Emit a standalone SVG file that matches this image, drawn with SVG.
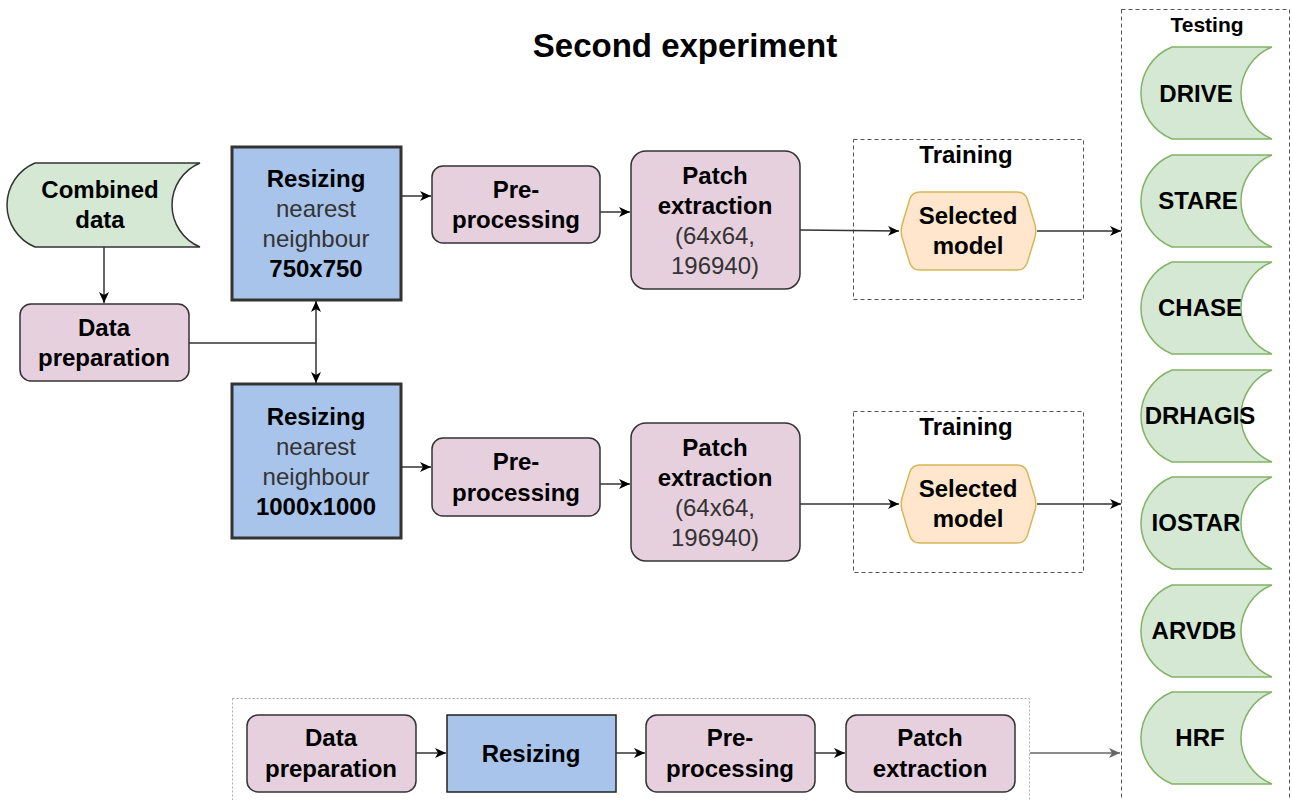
<svg xmlns="http://www.w3.org/2000/svg" width="1293" height="800" viewBox="0 0 1293 800">
<defs>
<style>
text{font-family:"Liberation Sans",Arial,sans-serif;font-size:24px;text-anchor:middle;fill:#000}
.b{font-weight:bold}
.g{fill:#333;font-weight:normal}
.pink{fill:#E6D0DE;stroke:#333;stroke-width:1.5}
.blue{fill:#A9C4EB;stroke:#333;stroke-width:3}
.blue1{fill:#A9C4EB;stroke:#222;stroke-width:1.5}
.green{fill:#D5E8D4;stroke:#82B366;stroke-width:1.5}
.hex{fill:#FFE6CC;stroke:#D6B656;stroke-width:1.5}
.dash{fill:none;stroke:#555;stroke-width:1;stroke-dasharray:4 3}
.dot{fill:none;stroke:#aaa;stroke-width:1;stroke-dasharray:2 2}
.c{fill:none;stroke:#333;stroke-width:1.5}
.cg{fill:none;stroke:#666;stroke-width:1.5}
</style>
<marker id="a" markerWidth="12" markerHeight="11" refX="11" refY="5.5" orient="auto" markerUnits="userSpaceOnUse">
<path d="M0,0.5 L11,5.5 L0,10.5 L3,5.5 Z" fill="#000"/>
</marker>
<marker id="as" markerWidth="12" markerHeight="11" refX="11" refY="5.5" orient="auto-start-reverse" markerUnits="userSpaceOnUse">
<path d="M0,0.5 L11,5.5 L0,10.5 L3,5.5 Z" fill="#000"/>
</marker>
<marker id="ag" markerWidth="12" markerHeight="11" refX="11" refY="5.5" orient="auto" markerUnits="userSpaceOnUse">
<path d="M0,0.5 L11,5.5 L0,10.5 L3,5.5 Z" fill="#666"/>
</marker>
<path id="hexp" d="M920,192 L1017,192 Q1025,192 1027.4,199.6 L1034.6,223.4 Q1037,231 1034.6,238.6 L1027.4,262.4 Q1025,270 1017,270 L920,270 Q912,270 909.6,262.4 L902.4,238.6 Q900,231 902.4,223.4 L909.6,199.6 Q912,192 920,192 Z"/>
<path id="ds" d="M1172,0 L1272,0 A49.6 49.6 0 0 0 1272,92 L1172,92 A49.6 49.6 0 0 1 1172,0 Z"/>
</defs>

<rect width="1293" height="800" fill="#fff"/>

<text id="title" class="b" x="685" y="57" style="font-size:33px">Second experiment</text>

<g id="testing">
<rect class="dash" x="1121.5" y="9.5" width="168" height="800"/>
<text class="b" x="1207" y="32" style="font-size:21px">Testing</text>
</g>
<g id="drive"><use href="#ds" class="green" y="47"/><text class="b" x="1196" y="102">DRIVE</text></g>
<g id="stare"><use href="#ds" class="green" y="155"/><text class="b" x="1198" y="209">STARE</text></g>
<g id="chase"><use href="#ds" class="green" y="262"/><text class="b" x="1200" y="316">CHASE</text></g>
<g id="drhagis"><use href="#ds" class="green" y="370"/><text class="b" x="1200" y="424">DRHAGIS</text></g>
<g id="iostar"><use href="#ds" class="green" y="477"/><text class="b" x="1196" y="531">IOSTAR</text></g>
<g id="arvdb"><use href="#ds" class="green" y="585"/><text class="b" x="1194" y="639">ARVDB</text></g>
<g id="hrf"><use href="#ds" class="green" y="692"/><text class="b" x="1200" y="746">HRF</text></g>

<g id="combined">
<path class="green" style="stroke:#333" d="M35,163 L200,163 A45.5 45.5 0 0 0 200,247 L35,247 A45.5 45.5 0 0 1 35,163 Z"/>
<text class="b" x="100" y="198">Combined</text>
<text class="b" x="100" y="228">data</text>
</g>

<g id="dataprep">
<rect class="pink" x="20" y="304" width="169" height="77" rx="11"/>
<text class="b" x="104" y="336">Data</text>
<text class="b" x="104" y="366">preparation</text>
</g>

<g id="resize1">
<rect class="blue" x="232" y="147" width="169" height="153"/>
<text class="b" x="316" y="187">Resizing</text>
<text class="g" x="316" y="217">nearest</text>
<text class="g" x="316" y="247">neighbour</text>
<text class="b" x="316" y="277">750x750</text>
</g>

<g id="resize2">
<rect class="blue" x="232" y="384" width="169" height="154"/>
<text class="b" x="316" y="425">Resizing</text>
<text class="g" x="316" y="455">nearest</text>
<text class="g" x="316" y="485">neighbour</text>
<text class="b" x="316" y="515">1000x1000</text>
</g>

<g id="pre1">
<rect class="pink" x="432" y="166" width="168" height="77" rx="11"/>
<text class="b" x="516" y="198">Pre-</text>
<text class="b" x="516" y="228">processing</text>
</g>

<g id="patch1">
<rect class="pink" x="631" y="151" width="169" height="138" rx="15"/>
<text class="b" x="715" y="184">Patch</text>
<text class="b" x="715" y="214">extraction</text>
<text class="g" x="715" y="244">(64x64,</text>
<text class="g" x="715" y="274">196940)</text>
</g>

<g id="train1">
<rect class="dash" x="853.5" y="139.5" width="230" height="160"/>
<text class="b" x="966" y="163">Training</text>
</g>
<g id="model1">
<use href="#hexp" class="hex"/>
<text class="b" x="968" y="224">Selected</text>
<text class="b" x="968" y="254">model</text>
</g>

<g id="pre2">
<rect class="pink" x="432" y="438" width="168" height="78" rx="11"/>
<text class="b" x="516" y="470">Pre-</text>
<text class="b" x="516" y="501">processing</text>
</g>

<g id="patch2">
<rect class="pink" x="631" y="423" width="169" height="138" rx="15"/>
<text class="b" x="715" y="456">Patch</text>
<text class="b" x="715" y="486">extraction</text>
<text class="g" x="715" y="516">(64x64,</text>
<text class="g" x="715" y="546">196940)</text>
</g>

<g id="train2">
<rect class="dash" x="853.5" y="411.5" width="230" height="161"/>
<text class="b" x="966" y="435">Training</text>
</g>
<g id="model2">
<use href="#hexp" class="hex" y="273"/>
<text class="b" x="968" y="497">Selected</text>
<text class="b" x="968" y="527">model</text>
</g>

<g id="pipeline">
<rect class="dot" x="232.5" y="698.5" width="797" height="110"/>
</g>
<g id="dataprep3">
<rect class="pink" x="247" y="715" width="169" height="77" rx="11"/>
<text class="b" x="331" y="746">Data</text>
<text class="b" x="331" y="777">preparation</text>
</g>
<g id="resize3">
<rect class="blue1" x="447" y="715" width="169" height="77"/>
<text class="b" x="531" y="762">Resizing</text>
</g>
<g id="pre3">
<rect class="pink" x="646" y="715" width="169" height="77" rx="11"/>
<text class="b" x="730" y="746">Pre-</text>
<text class="b" x="730" y="777">processing</text>
</g>
<g id="patch3">
<rect class="pink" x="846" y="715" width="169" height="77" rx="11"/>
<text class="b" x="930" y="746">Patch</text>
<text class="b" x="930" y="777">extraction</text>
</g>

<g id="connectors">
<path class="c" d="M104,247 L104,303" marker-end="url(#a)"/>
<path class="c" d="M189,343 L316,343"/>
<path class="c" d="M316,301 L316,383" marker-start="url(#as)" marker-end="url(#as)"/>
<path class="c" d="M401,196 L431,196" marker-end="url(#a)"/>
<path class="c" d="M600,212 L630,212" marker-end="url(#a)"/>
<path class="c" d="M800,230 L899,231" marker-end="url(#a)"/>
<path class="c" d="M1037,231 L1121,231" marker-end="url(#a)"/>
<path class="c" d="M401,467 L431,467" marker-end="url(#a)"/>
<path class="c" d="M600,484 L630,484" marker-end="url(#a)"/>
<path class="c" d="M800,504 L899,504" marker-end="url(#a)"/>
<path class="c" d="M1037,504 L1121,504" marker-end="url(#a)"/>
<path class="c" d="M416,753 L446,753" marker-end="url(#a)"/>
<path class="c" d="M616,753 L645,753" marker-end="url(#a)"/>
<path class="c" d="M815,753 L845,753" marker-end="url(#a)"/>
<path class="cg" d="M1030,753 L1120,753" marker-end="url(#ag)"/>
</g>
</svg>
